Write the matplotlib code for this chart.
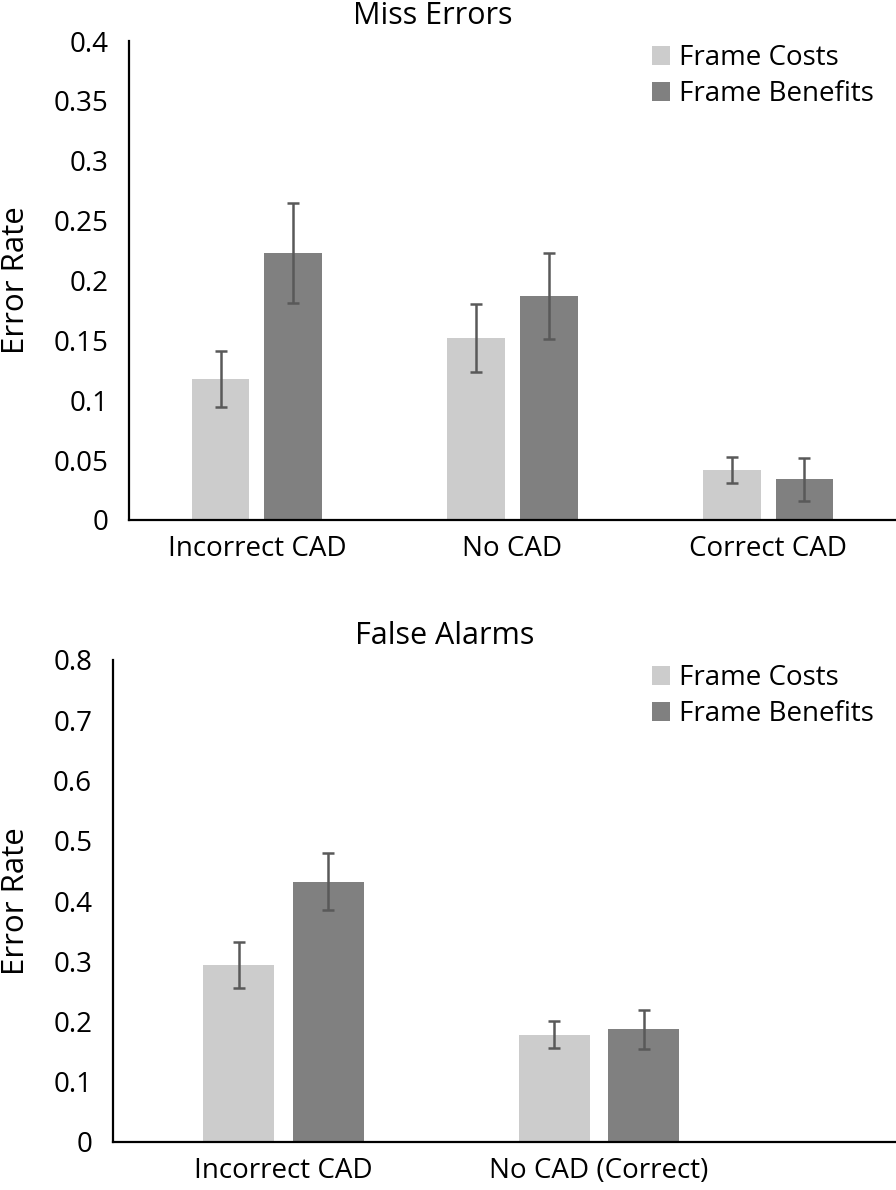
import matplotlib
matplotlib.use("Agg")
import matplotlib.pyplot as plt
import numpy as np

plt.rcParams['font.family'] = ['Open Sans', 'DejaVu Sans']

# Top panel data (Miss Errors)
miss_categories = ["Incorrect CAD", "No CAD", "Correct CAD"]
miss_costs = [0.118, 0.152, 0.042]
miss_costs_err = [0.0234, 0.0287, 0.011]
miss_benefits = [0.223, 0.187, 0.034]
miss_benefits_err = [0.042, 0.036, 0.018]
miss_yticks = [0, 0.05, 0.1, 0.15, 0.2, 0.25, 0.3, 0.35, 0.4]
miss_yticklabels = ["0", "0.05", "0.1", "0.15", "0.2", "0.25", "0.3", "0.35", "0.4"]

# Bottom panel data (False Alarms)
fa_categories = ["Incorrect CAD", "No CAD (Correct)"]
fa_costs = [0.294, 0.178]
fa_costs_err = [0.0377, 0.0226]
fa_benefits = [0.432, 0.187]
fa_benefits_err = [0.047, 0.0327]
fa_yticks = [0, 0.1, 0.2, 0.3, 0.4, 0.5, 0.6, 0.7, 0.8]
fa_yticklabels = ["0", "0.1", "0.2", "0.3", "0.4", "0.5", "0.6", "0.7", "0.8"]

series_names = ["Frame Costs", "Frame Benefits"]
COL_COST = "#CCCCCC"
COL_BEN = "#808080"
COL_ERR = "#595959"

W, H = 896, 1190
fig = plt.figure(figsize=(W / 100, H / 100), dpi=100)

def fx(px):
    return px / W

def fy(py):
    return 1 - py / H

FS = 20

def draw(ax, left_px, cats, costs, cerr, bens, berr, yticks, ylabels, ymax, width, off, xlim, legend_y):
    x = np.arange(len(cats))
    ekw = dict(ecolor=COL_ERR, elinewidth=1.8, capthick=1.8)
    b1 = ax.bar(x - off, costs, width, color=COL_COST, yerr=cerr, capsize=4.5, error_kw=ekw, label=series_names[0], zorder=2)
    b2 = ax.bar(x + off, bens, width, color=COL_BEN, yerr=berr, capsize=4.5, error_kw=ekw, label=series_names[1], zorder=2)
    ax.set_xlim(*xlim)
    ax.set_ylim(0, ymax)
    ax.set_yticks(yticks)
    ax.set_yticklabels(ylabels, fontsize=FS)
    ax.set_xticks(x)
    ax.set_xticklabels(cats, fontsize=FS)
    ax.tick_params(axis='both', length=0, colors='black')
    ax.tick_params(axis='y', pad=15)
    ax.tick_params(axis='x', pad=11)
    for s in ['top', 'right']:
        ax.spines[s].set_visible(False)
    for s in ['left', 'bottom']:
        ax.spines[s].set_linewidth(1.6)
        ax.spines[s].set_color('black')
        ax.spines[s].set_zorder(3)
    ax.set_ylabel("Error Rate", fontsize=FS + 2.5)
    axw = W - left_px
    ax.yaxis.set_label_coords((31 - left_px) / axw, 0.5)
    ax.legend(handles=[b1, b2], labels=series_names, loc='upper left',
              bbox_to_anchor=(fx(641), fy(legend_y)), bbox_transform=fig.transFigure,
              frameon=False, fontsize=FS, handlelength=0.65, handleheight=0.65,
              handletextpad=0.3, labelspacing=0.3, borderaxespad=0)
    return ax

# Top axes
ax1 = fig.add_axes([fx(129), fy(520), fx(896) - fx(129), fy(41) - fy(520)])
draw(ax1, 129, miss_categories, miss_costs, miss_costs_err, miss_benefits, miss_benefits_err,
     miss_yticks, miss_yticklabels, 0.4, 0.2266, 0.142, (-0.5, 2.5), 33)
fig.text(fx(433), fy(16), "Miss Errors", ha='center', va='center', fontsize=FS + 2)

# Bottom axes
ax2 = fig.add_axes([fx(113), fy(1142), fx(896) - fx(113), fy(660) - fy(1142)])
draw(ax2, 113, fa_categories, fa_costs, fa_costs_err, fa_benefits, fa_benefits_err,
     fa_yticks, fa_yticklabels, 0.8, 0.225, 0.1417, (-0.54, 1.941), 653)
fig.text(fx(445), fy(636), "False Alarms", ha='center', va='center', fontsize=FS + 2)

fig.savefig("out.png", dpi=100, facecolor='white')
